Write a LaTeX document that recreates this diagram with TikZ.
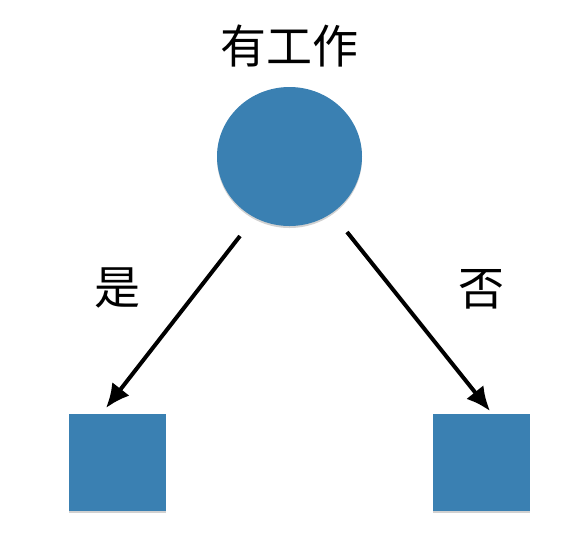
\documentclass[tikz,border=0pt]{standalone}
\usepackage{fontspec}
\newfontfamily\cjk{Noto Sans CJK SC}
\usetikzlibrary{arrows.meta,shadows,shapes.geometric}
\definecolor{nodeblue}{RGB}{58,128,178}
\tikzset{
  blob/.style={fill=nodeblue, draw=none, drop shadow={shadow xshift=0pt, shadow yshift=-2pt, opacity=0.3, fill=black!60}},
  arr/.style={line width=4pt, -{Latex[length=24pt,width=22pt]}},
  lbl/.style={font=\cjk\fontsize{46}{50}\selectfont, inner sep=0pt}
}
\begin{document}
\begin{tikzpicture}[x=1pt,y=-1pt]
\useasboundingbox (0,0) rectangle (586,542);
\node[blob, ellipse, minimum width=145pt, minimum height=139pt, inner sep=0pt] (top) at (289.5,156.5) {};
\node[blob, rectangle, minimum width=97pt, minimum height=97pt, inner sep=0pt] (left) at (117,462) {};
\node[blob, rectangle, minimum width=97pt, minimum height=97pt, inner sep=0pt] (right) at (481,462) {};
\node[lbl] (t) at (289,46) {有工作};
\node[lbl] (yes) at (117,288) {是};
\node[lbl] (no) at (481,289) {否};
\coordinate (ls) at (240,236);
\coordinate (le) at (106,408);
\coordinate (rs) at (347,232);
\coordinate (re) at (490,411);
\draw[arr] (ls) -- (le);
\draw[arr] (rs) -- (re);
\end{tikzpicture}
\end{document}
